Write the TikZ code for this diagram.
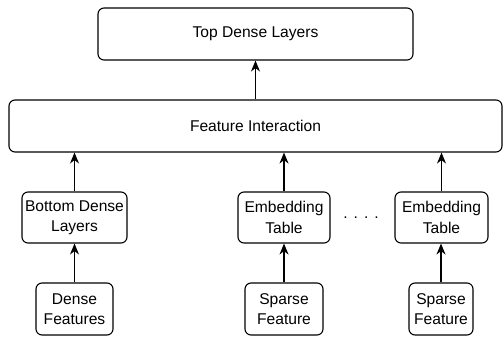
\documentclass[tikz,border=0pt]{standalone}
\usepackage{fontspec}
\setmainfont{Liberation Sans}
\usetikzlibrary{arrows.meta}
\begin{document}
\begin{tikzpicture}[x=1pt,y=-1pt,
  box/.style={draw, line width=1.1pt, rounded corners=6pt, inner sep=0pt, align=center,
    font=\fontsize{15.6}{20.5}\selectfont},
  conn/.style={line width=1.1pt, -{Stealth[length=11pt,width=9pt,inset=3.5pt]}}]
\useasboundingbox (0,0) rectangle (503,337);
\node[box, minimum width=315pt, minimum height=52pt] (top) at (255.5,34) {Top Dense Layers};
\node[box, minimum width=493pt, minimum height=52pt] (fi) at (255.5,126) {Feature Interaction};
\node[box, minimum width=105pt, minimum height=51pt] (bdl) at (74.5,217.5) {Bottom Dense\\Layers};
\node[box, minimum width=92pt, minimum height=51pt] (et1) at (284,217.5) {Embedding\\Table};
\node[box, minimum width=93pt, minimum height=51pt] (et2) at (441.5,217.5) {Embedding\\Table};
\node[box, minimum width=77pt, minimum height=52pt] (df) at (74.5,309) {Dense\\Features};
\node[box, minimum width=78pt, minimum height=52pt] (sf1) at (284,309) {Sparse\\Feature};
\node[box, minimum width=64pt, minimum height=52pt] (sf2) at (441,309) {Sparse\\Feature};
\node[inner sep=0pt] (dots) at (361,218) {\fontsize{15.6}{20}\selectfont .\hspace{6pt}.\hspace{6pt}.\hspace{6pt}.};
\draw[conn] (fi.north -| top.south) -- (top.south);
\draw[conn] (bdl.north) -- (bdl.north |- fi.south);
\draw[conn] (et1.north) -- (et1.north |- fi.south);
\draw[conn] (et2.north) -- (et2.north |- fi.south);
\draw[conn] (df.north) -- (bdl.south);
\draw[conn] (sf1.north) -- (et1.south);
\draw[conn] (sf2.north) -- (et2.south -| sf2.north);
\end{tikzpicture}
\end{document}
